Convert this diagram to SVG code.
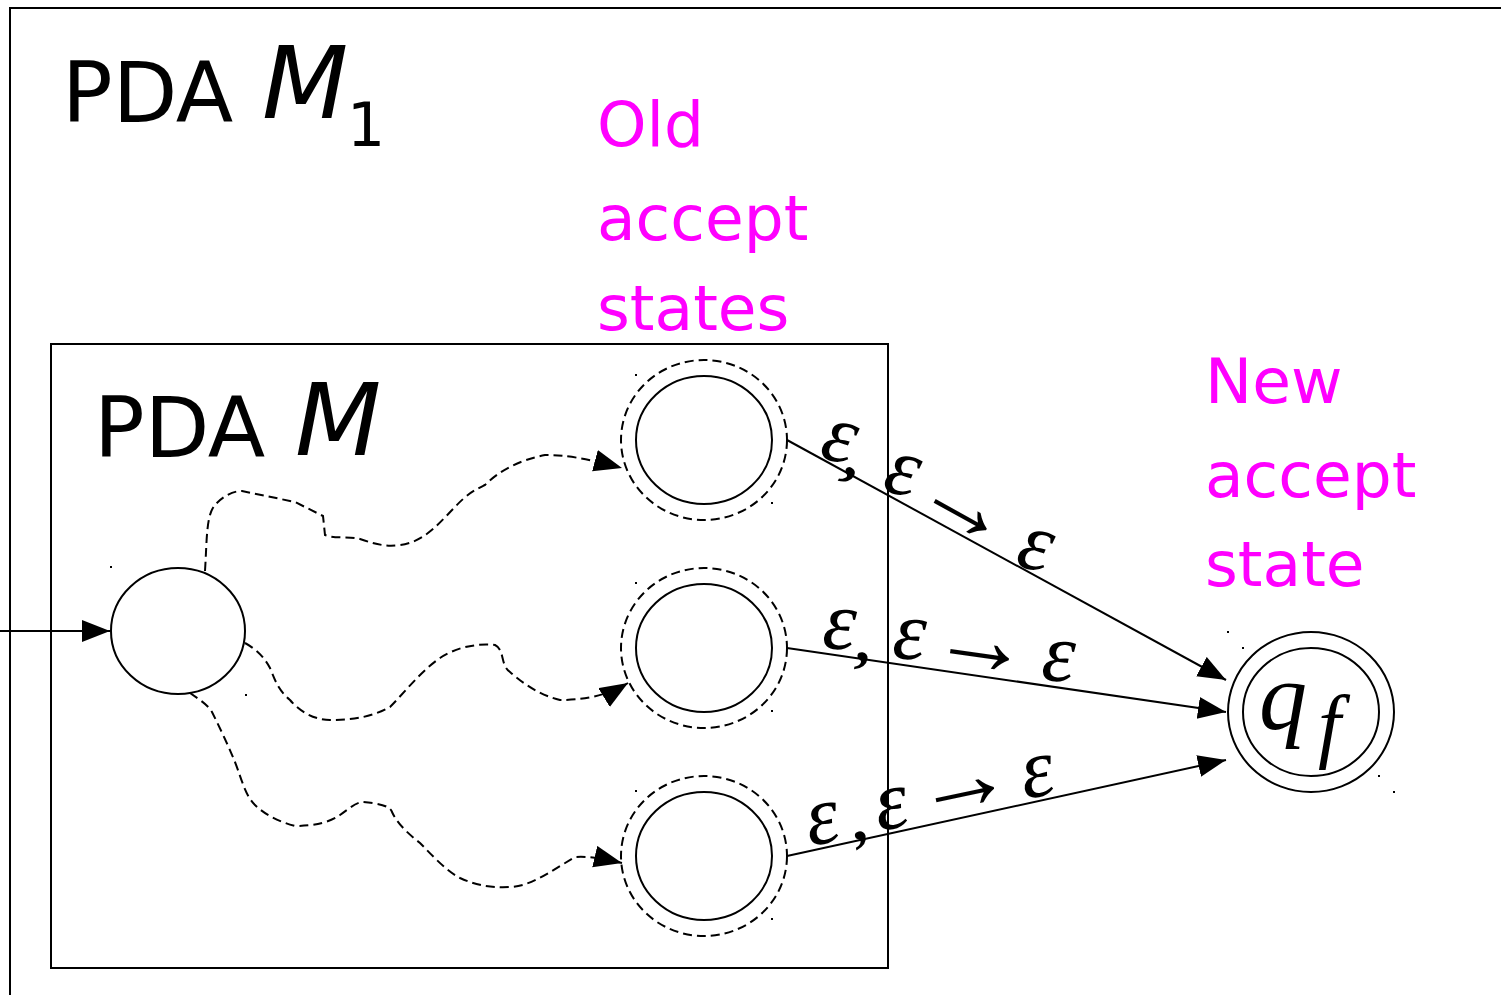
<svg xmlns="http://www.w3.org/2000/svg" width="1501" height="995" viewBox="0 0 1501 995">
<style>
.frame{fill:none;stroke:#000;stroke-width:2}
.st{fill:#fff;stroke:#000;stroke-width:2}
.dash{fill:none;stroke:#000;stroke-width:2;stroke-dasharray:9 5}
.edge{fill:none;stroke:#000;stroke-width:2}
.lbl{font-family:"DejaVu Sans",sans-serif;fill:#000}
.mag{font-family:"DejaVu Sans",sans-serif;fill:#ff00ff;font-size:63px}
.eps{font-family:"Liberation Serif",serif;font-style:italic;font-size:84px;fill:#000}
.cm{font-family:"Liberation Serif",serif;font-weight:bold;font-size:60px;fill:#000}
.arr{font-family:"Liberation Serif",serif;font-size:100px;fill:#000}
.dot{fill:#000}
</style>
<defs>
<marker id="ah" markerUnits="userSpaceOnUse" markerWidth="30" markerHeight="24" refX="28" refY="11" orient="auto">
<path d="M0,0 L28,11 L0,22 z" fill="#000"/>
</marker>
</defs>
<g id="pda-m1">
<path class="frame" d="M10,995 L10,8 L1501,8"/>
<text class="lbl" x="62" y="122" font-size="84">PDA</text>
<text class="lbl" x="262" y="118" font-size="100" font-style="italic">M</text>
<text class="lbl" x="347" y="146" font-size="60">1</text>
</g>
<g id="pda-m">
<rect class="frame" x="51" y="344" width="837" height="624"/>
<text class="lbl" x="94" y="457" font-size="84">PDA</text>
<text class="lbl" x="295" y="455" font-size="100" font-style="italic">M</text>
</g>
<g id="old-label">
<text class="mag" x="597" y="146">Old</text>
<text class="mag" x="597" y="240">accept</text>
<text class="mag" x="597" y="330">states</text>
</g>
<g id="new-label">
<text class="mag" x="1205" y="403">New</text>
<text class="mag" x="1205" y="497">accept</text>
<text class="mag" x="1205" y="586">state</text>
</g>
<g id="start">
<ellipse class="st" cx="178" cy="631" rx="67" ry="63"/>
<rect class="dot" x="110" y="566" width="2" height="2"/>
<rect class="dot" x="245" y="694" width="2" height="2"/>
</g>
<g id="old1">
<ellipse class="st" cx="704" cy="440" rx="83" ry="80" stroke-dasharray="9 5"/>
<ellipse class="st" cx="704" cy="440" rx="68" ry="64"/>
<rect class="dot" x="635" y="374" width="2" height="2"/>
<rect class="dot" x="771" y="502" width="2" height="2"/>
</g>
<g id="old2">
<ellipse class="st" cx="704" cy="648" rx="83" ry="80" stroke-dasharray="9 5"/>
<ellipse class="st" cx="704" cy="648" rx="68" ry="64"/>
<rect class="dot" x="635" y="582" width="2" height="2"/>
<rect class="dot" x="771" y="710" width="2" height="2"/>
</g>
<g id="old3">
<ellipse class="st" cx="704" cy="856" rx="83" ry="80" stroke-dasharray="9 5"/>
<ellipse class="st" cx="704" cy="856" rx="68" ry="64"/>
<rect class="dot" x="635" y="790" width="2" height="2"/>
<rect class="dot" x="771" y="918" width="2" height="2"/>
</g>
<g id="qf">
<ellipse class="st" cx="1311" cy="712" rx="83" ry="80"/>
<ellipse class="st" cx="1311" cy="712" rx="68" ry="64"/>
<rect class="dot" x="1227" y="631" width="2" height="2"/>
<rect class="dot" x="1242" y="647" width="2" height="2"/>
<rect class="dot" x="1378" y="775" width="2" height="2"/>
<rect class="dot" x="1393" y="791" width="2" height="2"/>
<text font-family="Liberation Serif,serif" font-style="italic" font-size="96" x="1259" y="729">q</text>
<text font-family="Liberation Serif,serif" font-style="italic" font-size="82" x="1318" y="752">f</text>
</g>
<g id="connectors">
<line class="edge" x1="0" y1="631" x2="110" y2="631" marker-end="url(#ah)"/>
<path class="dash" marker-end="url(#ah)" d="M205,571 C207,540 206,515 215,505 C222,497 232,491 242,491 L295,502 L323,516 L325,535 C335,539 350,536 360,539 C375,544 385,547 400,545 C425,542 440,522 455,507 C468,493 475,490 485,485 C500,470 520,460 545,455 C565,455 585,458 622,468"/>
<path class="dash" marker-end="url(#ah)" d="M245,643 C258,650 266,660 270,668 C275,680 278,690 290,700 C300,712 315,720 330,720 C350,720 370,718 390,707 C405,692 420,672 440,658 C455,648 475,643 495,645 C505,650 500,665 510,672 C525,685 540,695 560,700 C580,700 605,697 628,683"/>
<path class="dash" marker-end="url(#ah)" d="M190,693 C200,700 208,705 212,712 C220,728 228,745 235,762 C242,780 245,795 255,805 C265,815 280,822 295,826 C315,826 330,822 340,815 C350,808 355,803 362,802 C375,803 390,805 392,812 C398,825 410,835 420,843 C432,855 445,870 460,878 C475,885 490,888 510,887 C530,886 545,875 575,857 C590,856 605,859 622,863"/>
<line class="edge" x1="787" y1="440" x2="1226" y2="680" marker-end="url(#ah)"/>
<line class="edge" x1="787" y1="648" x2="1226" y2="712" marker-end="url(#ah)"/>
<line class="edge" x1="787" y1="856" x2="1226" y2="760" marker-end="url(#ah)"/>
</g>
<g id="label1">
<text class="eps" x="834" y="461" text-anchor="middle" transform="rotate(15 834 461)">ε</text>
<text class="cm" x="848" y="476" text-anchor="middle" transform="rotate(29 848 476)">,</text>
<text class="eps" x="897" y="494" text-anchor="middle" transform="rotate(15 897 494)">ε</text>
<text class="arr" x="965" y="533" text-anchor="middle" transform="rotate(29 965 507)">→</text>
<text class="eps" x="1030" y="569" text-anchor="middle" transform="rotate(15 1030 569)">ε</text>
</g>
<g id="label2">
<text class="eps" x="838" y="649" text-anchor="middle" transform="rotate(4 838 649)">ε</text>
<text class="cm" x="862" y="661" text-anchor="middle" transform="rotate(8 862 661)">,</text>
<text class="eps" x="908" y="659" text-anchor="middle" transform="rotate(4 908 659)">ε</text>
<text class="arr" x="981" y="672" text-anchor="middle" transform="rotate(8 981 646)">→</text>
<text class="eps" x="1057" y="681" text-anchor="middle" transform="rotate(4 1057 681)">ε</text>
</g>
<g id="label3">
<text class="eps" x="826" y="843" text-anchor="middle" transform="rotate(-10 826 843)">ε</text>
<text class="cm" x="861" y="840" text-anchor="middle" transform="rotate(-12 861 840)">,</text>
<text class="eps" x="895" y="828" text-anchor="middle" transform="rotate(-10 895 828)">ε</text>
<text class="arr" x="963" y="811" text-anchor="middle" transform="rotate(-12 963 785)">→</text>
<text class="eps" x="1041" y="796" text-anchor="middle" transform="rotate(-10 1041 796)">ε</text>
</g>
</svg>
